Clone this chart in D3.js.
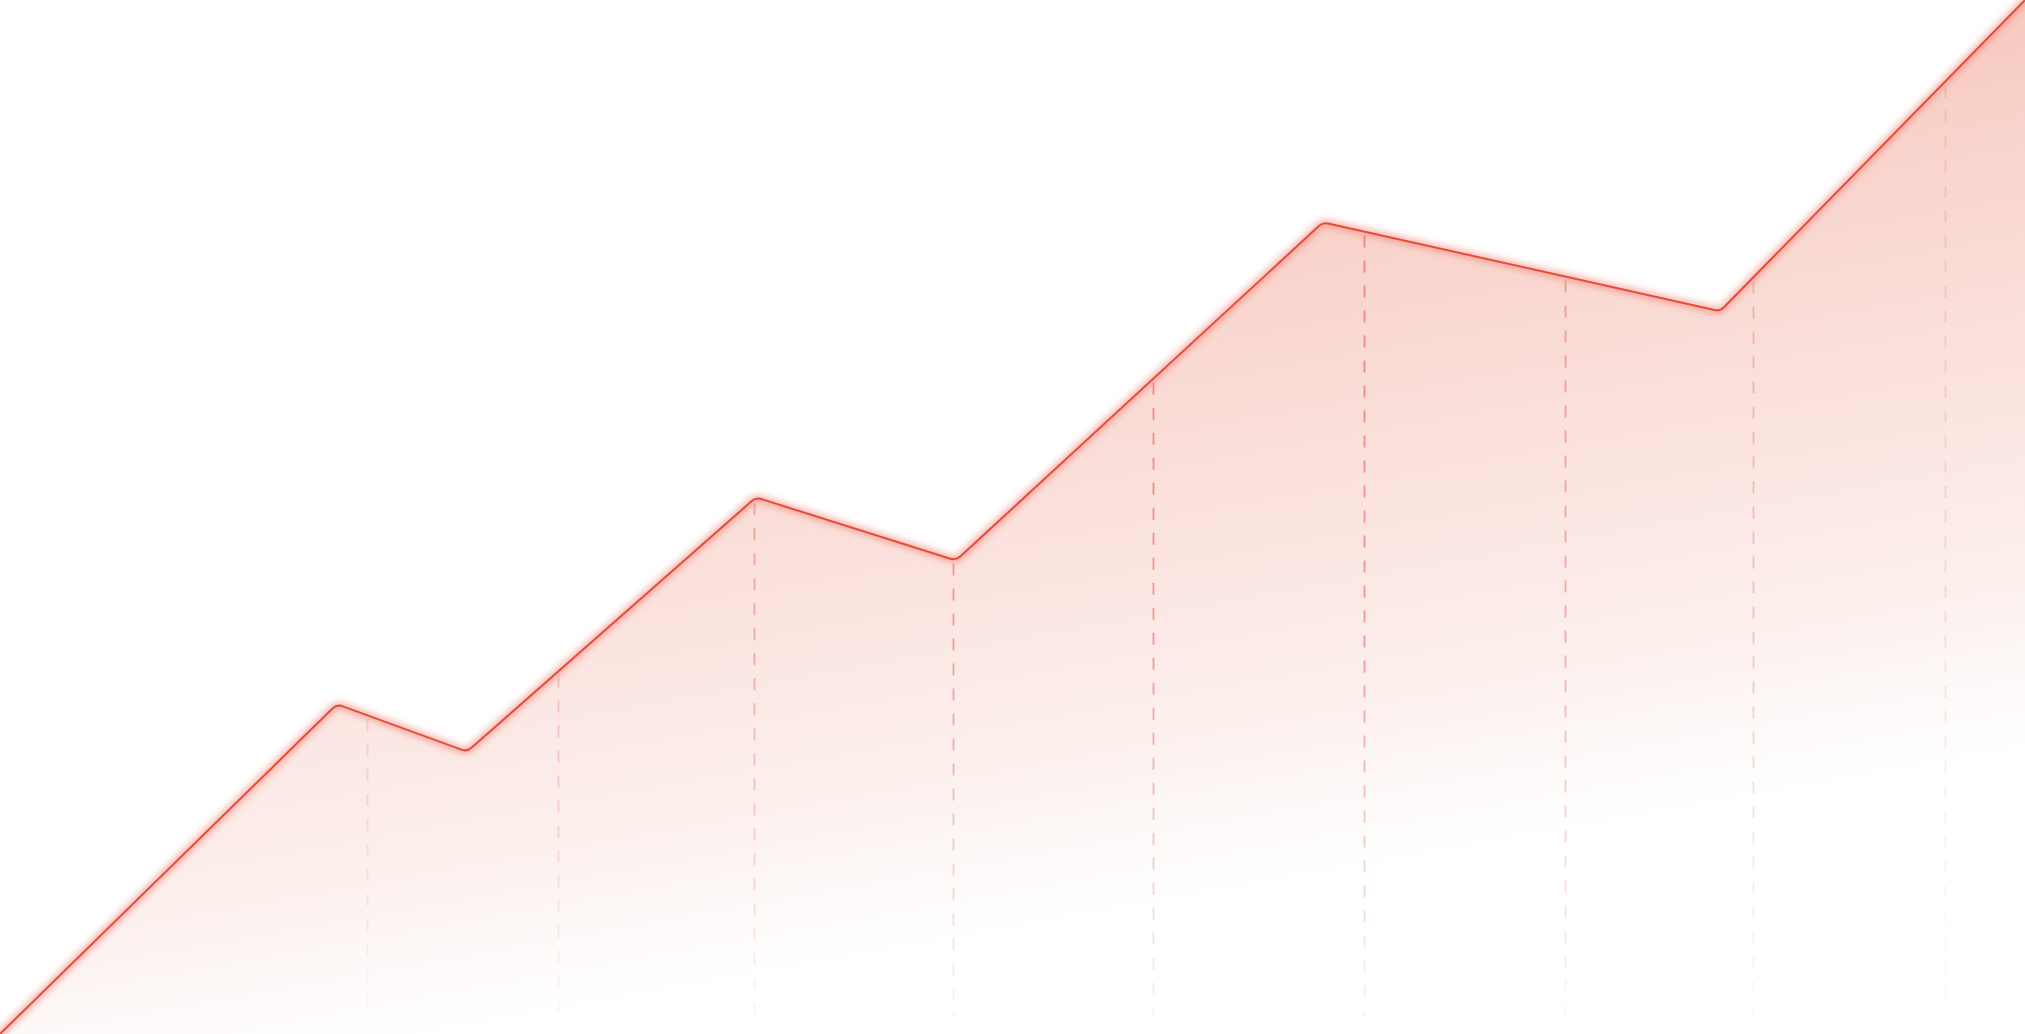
<!DOCTYPE html>
<html>
<head>
<meta charset="utf-8">
<script src="https://cdn.jsdelivr.net/npm/d3@7"></script>
<style>
  html, body { margin: 0; padding: 0; background: #ffffff; overflow: hidden; }
  #chart { width: 2025px; height: 1034px; }
</style>
</head>
<body>
<div id="chart"></div>
<script>
// Series values (x in %, y in % of chart height)
let xVals = [0, 16.64, 23.06, 37.33, 47.21, 65.33, 84.94, 100];
let yVals = [0, 31.9, 27.3, 51.9, 45.8, 78.5, 69.9, 100];
// Positions of the dashed guide lines (same x domain)
let gridX = [18.12, 27.56, 37.23, 47.06, 56.94, 67.36, 77.28, 86.57, 96.05];

function drawChart() {
  let width = 2025,
    height = 1034;

  let xScale = d3.scaleLinear().domain([0, 100]).range([0, width]);
  let yScale = d3.scaleLinear().domain([0, 100]).range([height, 0]);

  let svg = d3
    .select("#chart")
    .append("svg")
    .attr("width", width)
    .attr("height", height);

  let defs = svg.append("defs");

  // fill gradient, a little tilted so the bottom right fades out first
  let fillGrad = defs
    .append("linearGradient")
    .attr("id", "fillGrad")
    .attr("gradientUnits", "userSpaceOnUse")
    .attr("x1", 64)
    .attr("y1", 353)
    .attr("x2", 194)
    .attr("y2", 1080);
  fillGrad.append("stop").attr("offset", 0).attr("stop-color", "#f6c9be");
  fillGrad.append("stop").attr("offset", 0.16).attr("stop-color", "#f8d3cb");
  fillGrad.append("stop").attr("offset", 0.5).attr("stop-color", "#fbe3df");
  fillGrad.append("stop").attr("offset", 0.77).attr("stop-color", "#fcf0ed");
  fillGrad.append("stop").attr("offset", 0.88).attr("stop-color", "#fdf8f7");
  fillGrad.append("stop").attr("offset", 1).attr("stop-color", "#ffffff");

  // masks that fade the dashed lines toward bottom and sides
  let vGrad = defs
    .append("linearGradient")
    .attr("id", "vFade")
    .attr("gradientUnits", "userSpaceOnUse")
    .attr("x1", 0).attr("y1", 150)
    .attr("x2", 0).attr("y2", 1034);
  vGrad.append("stop").attr("offset", 0).attr("stop-color", "#fff");
  vGrad.append("stop").attr("offset", 0.55).attr("stop-color", "#fff").attr("stop-opacity", 0.85);
  vGrad.append("stop").attr("offset", 1).attr("stop-color", "#fff").attr("stop-opacity", 0.1);

  let hGrad = defs
    .append("linearGradient")
    .attr("id", "hFade")
    .attr("gradientUnits", "userSpaceOnUse")
    .attr("x1", 0).attr("y1", 0)
    .attr("x2", width).attr("y2", 0);
  hGrad.append("stop").attr("offset", 0.1).attr("stop-color", "#fff").attr("stop-opacity", 0.3);
  hGrad.append("stop").attr("offset", 0.5).attr("stop-color", "#fff").attr("stop-opacity", 1);
  hGrad.append("stop").attr("offset", 0.68).attr("stop-color", "#fff").attr("stop-opacity", 1);
  hGrad.append("stop").attr("offset", 0.98).attr("stop-color", "#fff").attr("stop-opacity", 0.25);

  defs.append("mask").attr("id", "vMask")
    .append("rect").attr("width", width).attr("height", height).attr("fill", "url(#vFade)");
  defs.append("mask").attr("id", "hMask")
    .append("rect").attr("width", width).attr("height", height).attr("fill", "url(#hFade)");

  // soft glow under the line
  let glow = defs.append("filter").attr("id", "glow")
    .attr("x", "-10%").attr("y", "-10%").attr("width", "120%").attr("height", "120%");
  glow.append("feGaussianBlur").attr("stdDeviation", 3);

  let pts = xVals.map(function (d, i) {
    return [xScale(d), yScale(yVals[i])];
  });

  // line with rounded corners at every vertex
  function linePath(p, r) {
    let path = d3.path();
    path.moveTo(p[0][0], p[0][1]);
    for (let i = 1; i < p.length - 1; i++) {
      path.arcTo(p[i][0], p[i][1], p[i + 1][0], p[i + 1][1], r);
    }
    path.lineTo(p[p.length - 1][0], p[p.length - 1][1]);
    return path;
  }

  let areaPath = linePath(pts, 10);
  areaPath.lineTo(width, height);
  areaPath.lineTo(0, height);
  areaPath.closePath();

  svg.append("path")
    .attr("class", "area")
    .attr("d", areaPath.toString())
    .attr("fill", "url(#fillGrad)");

  // y of the line at a given x, used as top of each dashed line
  function lineY(x) {
    for (let i = 0; i < xVals.length - 1; i++) {
      if (x >= xVals[i] && x <= xVals[i + 1]) {
        let t = (x - xVals[i]) / (xVals[i + 1] - xVals[i]);
        return yVals[i] + t * (yVals[i + 1] - yVals[i]);
      }
    }
    return 0;
  }

  let guides = svg.append("g").attr("mask", "url(#hMask)")
    .append("g").attr("mask", "url(#vMask)");

  guides.selectAll("line")
    .data(gridX)
    .enter()
    .append("line")
    .attr("x1", function (d) { return Math.round(xScale(d)) + 0.5; })
    .attr("x2", function (d) { return Math.round(xScale(d)) + 0.5; })
    .attr("y1", function (d) { return yScale(lineY(d)) + 4; })
    .attr("y2", 1016)
    .attr("stroke", "#ea6a5e")
    .attr("stroke-opacity", 0.75)
    .attr("stroke-width", 1.8)
    .attr("stroke-dasharray", "12 13");

  let linePathStr = linePath(pts, 10).toString();

  svg.append("path")
    .attr("d", linePathStr)
    .attr("fill", "none")
    .attr("stroke", "#f07a6a")
    .attr("stroke-opacity", 0.5)
    .attr("stroke-width", 8)
    .attr("filter", "url(#glow)");

  svg.append("path")
    .attr("class", "line")
    .attr("d", linePathStr)
    .attr("fill", "none")
    .attr("stroke", "#e84b3c")
    .attr("stroke-width", 2)
    .attr("stroke-linejoin", "round");
}

drawChart();
</script>
</body>
</html>
